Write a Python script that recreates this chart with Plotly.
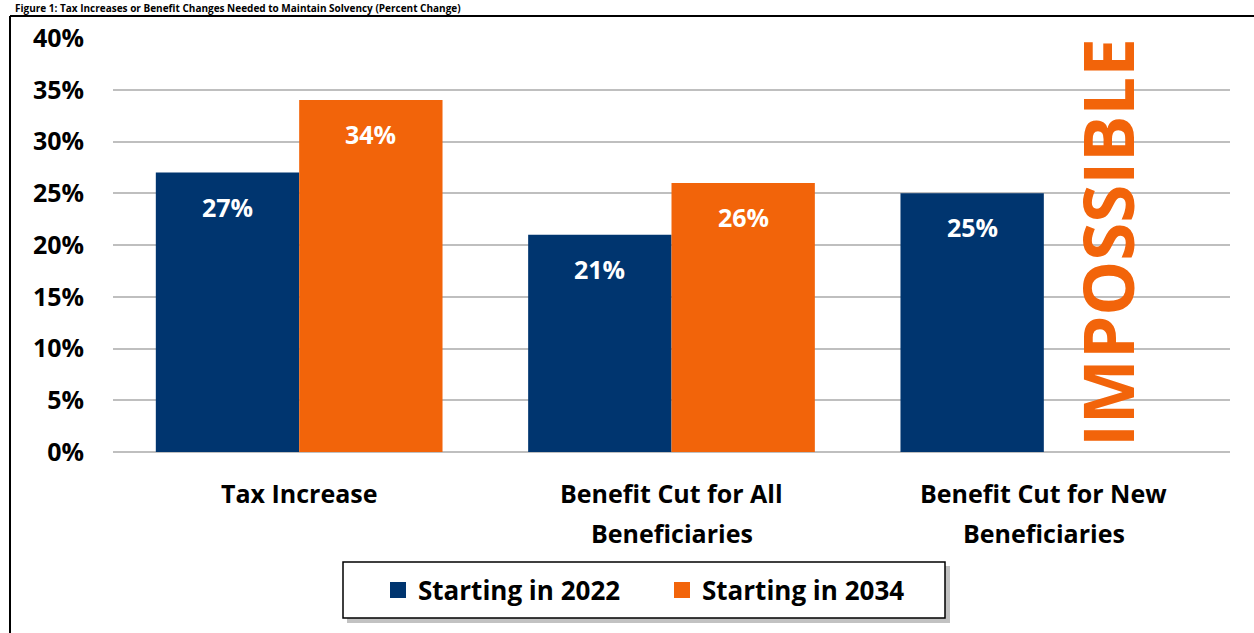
import plotly.graph_objects as go

categories = ["Tax Increase", "Benefit Cut for All<br>Beneficiaries", "Benefit Cut for New<br>Beneficiaries"]
series_2022 = [27, 21, 25]
series_2034 = [34, 26, None]
series_names = ["Starting in 2022", "Starting in 2034"]
y_ticks = [0, 5, 10, 15, 20, 25, 30, 35, 40]
y_tick_labels = [f"{v}%" for v in y_ticks]
title_text = "Figure 1: Tax Increases or Benefit Changes Needed to Maintain Solvency (Percent Change)"
impossible_text = "IMPOSSIBLE"

BLUE = "#00356F"
ORANGE = "#F2640A"
FONT = "Open Sans"

W, H = 1254, 633
L, R, T, B = 113, 24, 38, 181
pw, ph = W - L - R, H - T - B

def px_x(p):
    return (p - L) / pw

def px_y(p):
    return (H - B - p) / ph

fig = go.Figure()
colors = [BLUE, ORANGE]
for name, vals, col in zip(series_names, [series_2022, series_2034], colors):
    fig.add_trace(go.Bar(x=categories, y=vals, name=name, marker_color=col,
                         marker_line_width=0, showlegend=False))
# legend entries (square swatches)
for name, col in zip(series_names, colors):
    fig.add_trace(go.Scatter(x=[None], y=[None], mode="markers", name=name,
                             marker=dict(symbol="square", size=22, color=col)))

annotations = []
for vals, off in [(series_2022, -0.5), (series_2034, 0.5)]:
    for ci, v in enumerate(vals):
        if v is None:
            continue
        annotations.append(dict(
            x=ci + off * 0.385, y=v, xref="x", yref="y", text=f"{v}%",
            showarrow=False, yshift=-34,
            font=dict(family=FONT, size=25, color="white", weight="bold")))

# category labels (one annotation per line, for Excel-like line spacing)
for ci, cat in enumerate(categories):
    for li, line in enumerate(cat.split("<br>")):
        annotations.append(dict(
            x=ci, y=px_y(493 + 40 * li), xref="x", yref="paper", text=line,
            showarrow=False, xanchor="center", yanchor="middle",
            font=dict(family=FONT, size=25, color="black", weight="bold")))

annotations.append(dict(
    x=px_x(1107), y=px_y(243), xref="paper", yref="paper", text=impossible_text,
    textangle=-90, showarrow=False, xanchor="center", yanchor="middle",
    font=dict(family=FONT, size=69, color=ORANGE, weight="bold")))

annotations.append(dict(
    x=px_x(14), y=px_y(8), xref="paper", yref="paper", xanchor="left", yanchor="middle",
    text=title_text, showarrow=False, borderpad=0,
    font=dict(family=FONT, size=10, color="black", weight="bold")))

shapes = [
    dict(type="line", xref="paper", yref="paper", x0=px_x(10), x1=px_x(1300),
         y0=px_y(16), y1=px_y(16), line=dict(color="black", width=2)),
    dict(type="line", xref="paper", yref="paper", x0=px_x(10), x1=px_x(10),
         y0=px_y(16), y1=px_y(700), line=dict(color="black", width=2)),
    dict(type="rect", xref="paper", yref="paper", x0=px_x(347), x1=px_x(950),
         y0=px_y(623), y1=px_y(566), line=dict(width=0), fillcolor="rgba(120,120,120,0.45)",
         layer="below"),
    dict(type="rect", xref="paper", yref="paper", x0=px_x(343), x1=px_x(945),
         y0=px_y(618), y1=px_y(562), line=dict(color="black", width=1.5), fillcolor="white",
         layer="below"),
]

fig.update_layout(
    width=W, height=H,
    margin=dict(l=L, r=R, t=T, b=B),
    paper_bgcolor="white", plot_bgcolor="rgba(0,0,0,0)",
    barmode="group", bargap=0.23, bargroupgap=0,
    font=dict(family=FONT, color="black"),
    annotations=annotations,
    shapes=shapes,
    showlegend=True,
    legend=dict(orientation="h", x=px_x(378), y=px_y(590), xanchor="left", yanchor="middle",
                font=dict(family=FONT, size=26, color="black", weight="bold"),
                bgcolor="rgba(0,0,0,0)", borderwidth=0, itemwidth=30, itemsizing="trace",
                entrywidth=239, entrywidthmode="pixels"),
)
fig.update_yaxes(range=[0, 40], tickvals=y_ticks, ticktext=y_tick_labels,
                 showgrid=True, gridcolor="#BFBFBF", gridwidth=1.5,
                 zeroline=True, zerolinecolor="#BFBFBF", zerolinewidth=1.5,
                 showline=False, ticks="", ticklabelstandoff=28,
                 tickfont=dict(family=FONT, size=25, color="black", weight="bold"))
fig.update_xaxes(showgrid=False, showline=False, ticks="", showticklabels=False)

fig.write_html("out.html")
